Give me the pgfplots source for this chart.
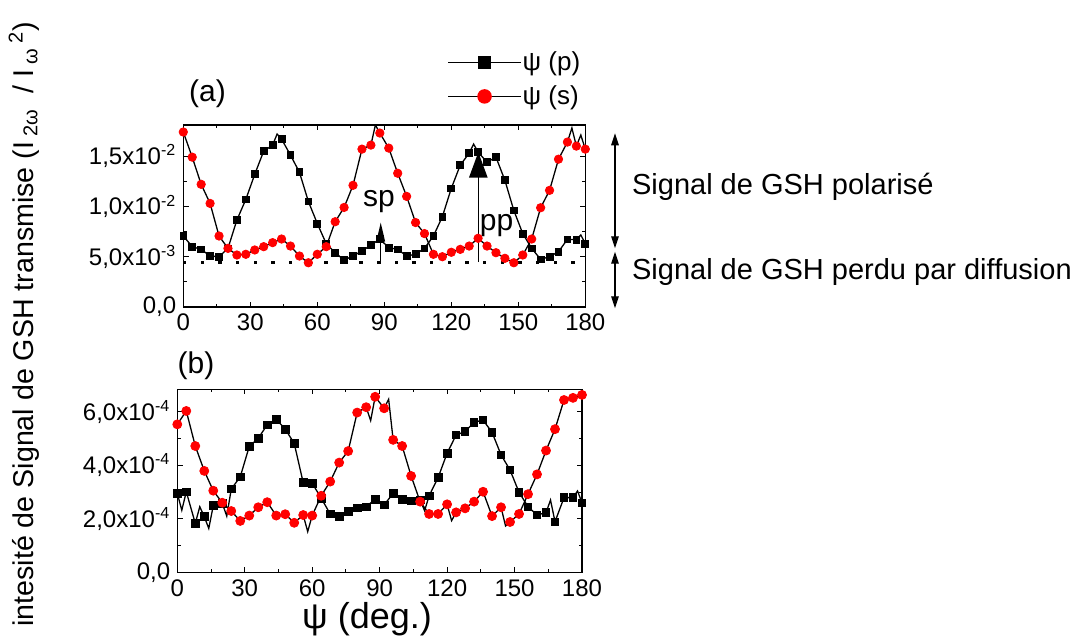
\documentclass[border=0pt]{standalone}
\usepackage{fontspec}
\setmainfont{Liberation Sans}
\usepackage{pgfplots}
\pgfplotsset{compat=1.18}
\usepackage{pgfplotstable}
\usetikzlibrary{arrows.meta}

% panel (a): intensity in units of 1e-3 ; m=1 where a symbol is drawn
\pgfplotstableread{
x y m
0 7.06 1
4 6.00 1
8 5.73 1
12 5.07 1
16 5.00 1
20 5.83 1
24 8.65 1
28 10.7 1
32 13.2 1
36 15.5 1
40 16.1 1
42 17.2 0
44 16.7 1
48 15.1 1
52 13.4 1
56 10.5 1
60 8.30 1
64 6.30 1
68 5.40 1
72 4.67 1
76 5.07 1
80 5.57 1
84 6.16 1
88 6.75 1
92 5.90 1
96 5.73 1
100 5.07 1
104 5.24 1
108 5.83 1
112 7.06 1
116 8.98 1
120 11.8 1
124 14.1 1
128 15.3 1
130 16.2 0
132 15.4 1
136 14.4 1
140 14.9 1
144 12.6 1
148 9.60 1
152 7.30 1
156 5.83 1
160 4.74 1
164 5.00 1
168 5.50 1
172 6.73 1
176 6.70 1
178 7.16 0
180 6.30 1
}\topP

\pgfplotstableread{
x y m
0 17.4 1
4 14.9 1
8 12.2 1
12 10.3 1
16 7.06 1
20 5.83 1
24 5.17 1
28 5.24 1
32 5.67 1
36 6.00 1
40 6.40 1
44 6.76 1
48 6.06 1
52 5.07 1
56 4.40 1
60 5.24 1
64 6.00 1
68 8.48 1
72 9.90 1
76 12.1 1
80 15.7 1
84 16.1 1
86 18.1 0
88 17.3 1
92 15.8 1
96 13.3 1
100 11.0 1
104 8.40 1
108 7.30 1
112 5.24 1
116 5.00 1
120 5.44 1
124 5.73 1
128 6.06 1
132 6.83 1
136 6.06 1
140 5.40 1
144 4.84 1
148 4.40 1
152 5.17 1
156 6.76 1
160 9.87 1
164 11.6 1
168 14.7 1
172 16.4 1
174 17.8 0
176 16.0 1
178 17.1 0
180 15.7 1
}\topS

% panel (b): intensity in units of 1e-4
\pgfplotstableread{
x y m
0 2.95 1
2 2.32 0
4 3.01 1
8 1.83 1
10 2.45 0
12 2.08 1
14 1.64 0
16 2.49 1
20 2.58 1
22 2.10 0
24 3.11 1
28 3.57 1
32 4.70 1
36 5.01 1
40 5.51 1
44 5.72 1
48 5.35 1
52 4.82 1
56 3.35 1
60 3.33 1
64 2.77 1
68 2.18 1
72 2.08 1
76 2.27 1
80 2.41 1
84 2.45 1
88 2.73 1
92 2.52 1
96 2.95 1
100 2.73 1
104 2.67 1
108 2.70 1
110 2.30 0
112 2.86 1
116 3.54 1
120 4.45 1
124 5.13 1
128 5.26 1
132 5.61 1
136 5.69 1
140 5.23 1
144 4.39 1
148 3.82 1
152 2.99 1
156 2.45 1
160 2.14 1
164 2.23 1
166 2.70 0
168 1.89 1
172 2.79 1
176 2.79 1
178 3.04 0
180 2.60 1
}\botP

\pgfplotstableread{
x y m
0 5.53 1
4 6.03 1
8 4.72 1
12 3.79 1
16 3.05 1
20 2.60 1
24 2.29 1
28 1.92 1
32 2.12 1
36 2.43 1
40 2.62 1
44 2.12 1
48 2.17 1
52 1.85 1
56 2.14 1
58 1.52 0
60 2.12 1
64 2.86 1
68 3.39 1
72 4.10 1
76 4.53 1
80 5.97 1
84 6.17 1
86 5.67 0
88 6.56 1
92 6.13 1
94 6.47 0
96 4.95 1
100 4.72 1
104 3.60 1
108 2.64 1
112 2.18 1
116 2.18 1
120 2.54 1
122 1.93 0
124 2.24 1
128 2.39 1
132 2.64 1
136 3.01 1
140 2.10 1
144 2.43 1
146 1.73 0
148 1.88 1
152 2.18 1
156 2.92 1
160 3.66 1
164 4.55 1
168 5.35 1
172 6.44 1
176 6.52 1
180 6.63 1
}\botS

\pgfplotsset{
  panel/.style={
    scale only axis,
    xmin=0, xmax=180, ymin=0,
    xtick={0,30,...,180},
    minor x tick num=1, minor y tick num=1,
    tick align=inside,
    major tick length=2.6pt, minor tick length=1.6pt,
    axis line style={line width=0.6pt},
    every tick/.style={black, line width=0.5pt},
    tick label style={font=\fontsize{12}{14}\selectfont},
    /pgf/number format/assume math mode=true,
  },
  curve/.style={black, line width=0.65pt, forget plot},
  symbols/.style={only marks, forget plot,
    restrict expr to domain={\thisrow{m}}{1:1}},
}

\begin{document}
\begin{tikzpicture}
\useasboundingbox (0pt,0pt) rectangle (538.5pt,320.5pt);

% ---- panel (a)
\begin{axis}[panel,
  at={(91.65pt,167pt)}, anchor=south west,
  width=201pt, height=91pt,
  ymax=18.1,
  ytick={0,5,10,15},
  yticklabels={{0,0},{5,0x10\textsuperscript{-3}},{1,0x10\textsuperscript{-2}},{1,5x10\textsuperscript{-2}}},
  legend style={at={(axis description cs:0.656,1.25)}, anchor=west,
    draw=none, fill=none, inner sep=0pt, row sep=5pt,
    font=\fontsize{13}{15}\selectfont, nodes={inner sep=0.5pt}},
  legend cell align=left,
  legend image code/.code={\draw[mark repeat=2,mark phase=2]
    plot coordinates {(0pt,0pt) (18.25pt,0pt) (36.5pt,0pt)};},
]
\addlegendimage{black, line width=0.65pt, mark=square*, mark size=2.9pt, mark options={fill=black}}
\addlegendentry{ψ (p)}
\addlegendimage{black, line width=0.65pt, mark=*, mark size=3.3pt, mark options={fill=red, draw=red}}
\addlegendentry{ψ (s)}

% scattered-light baseline
\addplot[only marks, mark=square*, mark size=0.6pt, black, forget plot] table {
x y
0.6 4.45
8.5 4.45
16.4 4.45
24.3 4.45
32.2 4.45
40.1 4.45
48.0 4.45
55.9 4.45
63.8 4.45
71.7 4.45
79.6 4.45
87.5 4.45
95.4 4.45
103.3 4.45
111.2 4.45
119.1 4.45
127.0 4.45
134.9 4.45
142.8 4.45
150.7 4.45
158.6 4.45
166.5 4.45
174.4 4.45
};

\addplot[curve] table[x=x,y=y] {\topP};
\addplot[symbols, mark=square*, mark size=1.7pt, black] table[x=x,y=y] {\topP};
\addplot[curve] table[x=x,y=y] {\topS};
\addplot[symbols, mark=*, mark size=2.1pt, red, mark options={fill=red, draw=red}] table[x=x,y=y] {\topS};

\draw[line width=0.75pt, -{Triangle[length=9.5pt,width=4.2pt]}] (axis cs:88.4,4.45) -- (axis cs:88.4,8.4);
\draw[line width=0.75pt, -{Triangle[length=12.8pt,width=9.2pt]}] (axis cs:132.1,4.45) -- (axis cs:132.1,15.4);
\node[anchor=base, font=\fontsize{15}{17}\selectfont, inner sep=0pt] at (axis cs:87.6,10.04) {sp};
\node[anchor=base, font=\fontsize{15}{17}\selectfont, inner sep=0pt] at (axis cs:140.3,7.65) {pp};
\end{axis}

% ---- panel (b)
\begin{axis}[panel,
  at={(88.65pt,34.35pt)}, anchor=south west,
  width=202.35pt, height=91.5pt,
  ymax=6.84,
  ytick={0,2,4,6},
  yticklabels={{0,0},{2,0x10\textsuperscript{-4}},{4,0x10\textsuperscript{-4}},{6,0x10\textsuperscript{-4}}},
]
\addplot[curve] table[x=x,y=y] {\botP};
\addplot[symbols, mark=square*, mark size=1.9pt, black] table[x=x,y=y] {\botP};
\addplot[curve] table[x=x,y=y] {\botS};
\addplot[symbols, mark=*, mark size=2.25pt, red, mark options={fill=red, draw=red}] table[x=x,y=y] {\botS};
\end{axis}

% panel tags and axis titles
\node[anchor=base, inner sep=0pt, font=\fontsize{15}{17}\selectfont] at (103.75pt,269.65pt) {(a)};
\node[anchor=base, inner sep=0pt, font=\fontsize{15}{17}\selectfont] at (98pt,133.65pt) {(b)};
\node[anchor=base, inner sep=0pt, font=\fontsize{18}{20}\selectfont] at (183.5pt,6pt) {ψ (deg.)};
\node[anchor=base west, rotate=90, inner sep=0pt, font=\fontsize{14.3}{17}\selectfont] at (16.5pt,7pt)
  {intesité de Signal de GSH transmise (I\,\textsubscript{2ω}\; / I\,\textsubscript{ω}\,\textsuperscript{2})};

% polarised / scattered parts of the signal
\draw[line width=0.6pt, {Triangle[length=6pt,width=3.8pt]}-{Triangle[length=6pt,width=3.8pt]}] (307.5pt,253.85pt) -- (307.5pt,196.35pt);
\draw[line width=0.6pt, {Triangle[length=6pt,width=3.8pt]}-{Triangle[length=6pt,width=3.8pt]}] (307.5pt,194.65pt) -- (307.5pt,166.35pt);
\node[anchor=base west, inner sep=0pt, font=\fontsize{14.5}{17}\selectfont] at (315.85pt,223pt) {Signal de GSH polarisé};
\node[anchor=base west, inner sep=0pt, font=\fontsize{14.5}{17}\selectfont] at (315.85pt,180.5pt) {Signal de GSH perdu par diffusion};
\end{tikzpicture}
\end{document}
